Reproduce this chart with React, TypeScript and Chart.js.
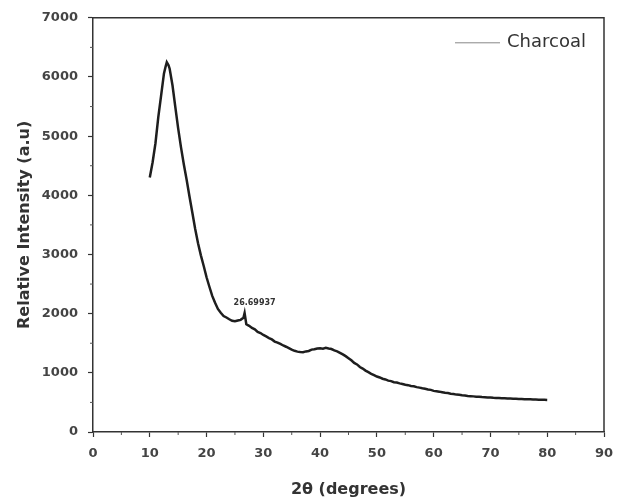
import React, { useEffect, useRef } from "react";
import { Chart, registerables } from "chart.js";

Chart.register(...registerables);

const seriesLabel = "Charcoal";
const peakLabel = "26.69937";
const peakX = 26.7;
const peakY = 2010;

const twoTheta: number[] = [
  10.0, 10.5, 11.0, 11.5, 12.0, 12.5, 12.8, 13.0, 13.3, 13.5, 14.0, 14.5, 15.0, 15.5, 16.0, 16.5,
  17.0, 17.5, 18.0, 18.5, 19.0, 19.5, 20.0, 20.5, 21.0, 21.5, 22.0, 22.5, 23.0, 23.5,
  24.0, 24.5, 25.0, 25.5, 26.0, 26.5, 26.7, 27.0, 27.5, 28.0, 28.5, 29.0, 29.5, 30.0,
  30.5, 31.0, 31.5, 32.0, 32.5, 33.0, 33.5, 34.0, 34.5, 35.0, 35.5, 36.0, 36.5, 37.0,
  37.5, 38.0, 38.5, 39.0, 39.5, 40.0, 40.5, 41.0, 41.5, 42.0, 42.5, 43.0, 43.5, 44.0,
  44.5, 45.0, 45.5, 46.0, 46.5, 47.0, 47.5, 48.0, 48.5, 49.0, 49.5, 50.0, 50.5, 51.0,
  51.5, 52.0, 52.5, 53.0, 53.5, 54.0, 54.5, 55.0, 55.5, 56.0, 56.5, 57.0, 57.5, 58.0,
  58.5, 59.0, 59.5, 60.0, 60.5, 61.0, 61.5, 62.0, 62.5, 63.0, 63.5, 64.0, 64.5, 65.0,
  65.5, 66.0, 66.5, 67.0, 67.5, 68.0, 68.5, 69.0, 69.5, 70.0, 70.5, 71.0, 71.5, 72.0,
  72.5, 73.0, 73.5, 74.0, 74.5, 75.0, 75.5, 76.0, 76.5, 77.0, 77.5, 78.0, 78.5, 79.0,
  79.5, 80.0,
];

const intensity: number[] = [
  4300, 4560, 4880, 5320, 5690, 6060, 6180, 6250, 6200, 6140, 5860, 5490, 5130, 4810, 4520, 4260,
  3975, 3705, 3430, 3190, 2985, 2805, 2615, 2455, 2300, 2185, 2080, 2015, 1960, 1935,
  1905, 1880, 1872, 1885, 1895, 1930, 2010, 1820, 1795, 1758, 1735, 1690, 1672, 1640,
  1615, 1588, 1565, 1528, 1512, 1488, 1462, 1441, 1418, 1392, 1372, 1358, 1352, 1348,
  1362, 1370, 1392, 1398, 1412, 1415, 1408, 1422, 1410, 1402, 1378, 1362, 1338, 1312,
  1282, 1248, 1212, 1168, 1142, 1098, 1072, 1038, 1012, 984, 962, 938, 922, 900,
  888, 868, 860, 842, 836, 822, 812, 798, 792, 778, 772, 758, 750, 738,
  730, 718, 712, 695, 690, 682, 672, 662, 658, 648, 642, 632, 628, 620,
  616, 610, 606, 602, 596, 596, 590, 588, 584, 584, 578, 576, 574, 572,
  570, 566, 566, 562, 562, 558, 556, 554, 553, 552, 550, 548, 547, 546,
  544, 542,
];

const xTicks: number[] = [0, 10, 20, 30, 40, 50, 60, 70, 80, 90];
const yTicks: number[] = [0, 1000, 2000, 3000, 4000, 5000, 6000, 7000];

const FONT = "'DejaVu Sans', 'Liberation Sans', Arial, sans-serif";

const overlayPlugin = {
  id: "overlay",
  afterDraw(chart: any) {
    const { ctx, chartArea, scales } = chart;
    const xs = scales.x;
    const ys = scales.y;
    ctx.save();
    // frame top & right
    ctx.strokeStyle = "#333";
    ctx.lineWidth = 1.5;
    ctx.beginPath();
    ctx.moveTo(chartArea.left, chartArea.top);
    ctx.lineTo(chartArea.right, chartArea.top);
    ctx.lineTo(chartArea.right, chartArea.bottom);
    ctx.stroke();
    // minor ticks
    ctx.lineWidth = 1;
    ctx.strokeStyle = "#555";
    ctx.beginPath();
    for (let v = 5; v < 90; v += 10) {
      const px = xs.getPixelForValue(v);
      ctx.moveTo(px, chartArea.bottom);
      ctx.lineTo(px, chartArea.bottom + 3);
    }
    for (let v = 500; v < 7000; v += 1000) {
      const py = ys.getPixelForValue(v);
      ctx.moveTo(chartArea.left, py);
      ctx.lineTo(chartArea.left - 3, py);
    }
    ctx.stroke();
    // peak annotation
    ctx.fillStyle = "#333";
    ctx.font = "bold 8px " + FONT;
    ctx.textAlign = "center";
    ctx.textBaseline = "middle";
    ctx.fillText(peakLabel, xs.getPixelForValue(peakX) + 10, ys.getPixelForValue(peakY) - 10);
    // legend
    const lx = chartArea.right - 149;
    const ly = chartArea.top + 25;
    ctx.strokeStyle = "#888";
    ctx.lineWidth = 1;
    ctx.beginPath();
    ctx.moveTo(lx, ly);
    ctx.lineTo(lx + 45, ly);
    ctx.stroke();
    ctx.fillStyle = "#333";
    ctx.font = "18px " + FONT;
    ctx.textAlign = "left";
    ctx.fillText(seriesLabel, lx + 52, ly);
    ctx.restore();
  },
};

export default function App() {
  const ref = useRef<HTMLCanvasElement | null>(null);
  useEffect(() => {
    document.body.style.margin = "0";
    const canvas = ref.current;
    if (!canvas) return;
    const chart = new Chart(canvas, {
      type: "line",
      data: {
        datasets: [
          {
            label: seriesLabel,
            data: twoTheta.map((x, i) => ({ x, y: intensity[i] })),
            borderColor: "#1e1e1e",
            borderWidth: 2.5,
            pointRadius: 0,
            tension: 0,
            fill: false,
          },
        ],
      },
      options: {
        animation: false,
        responsive: false,
        maintainAspectRatio: false,
        layout: { padding: { left: 15, top: 17, right: 19, bottom: 0 } },
        plugins: { legend: { display: false }, tooltip: { enabled: false } },
        scales: {
          x: {
            type: "linear",
            min: 0,
            max: 90,
            afterBuildTicks: (s: any) => {
              s.ticks = xTicks.map((v) => ({ value: v }));
            },
            afterFit: (s: any) => {
              s.height = 71;
            },
            ticks: {
              color: "#444",
              font: { family: FONT, size: 13, weight: "bold" },
              padding: 9,
              maxRotation: 0,
              autoSkip: false,
              callback: (v: any) => String(v),
            },
            grid: { drawOnChartArea: false, drawTicks: true, tickLength: 5, tickColor: "#333", tickWidth: 1.2 },
            border: { color: "#333", width: 1.5 },
            title: {
              display: true,
              text: "2θ (degrees)",
              color: "#333",
              font: { family: FONT, size: 16, weight: "bold" },
              padding: { top: 0, bottom: 4 },
            },
          },
          y: {
            type: "linear",
            min: 0,
            max: 7000,
            afterBuildTicks: (s: any) => {
              s.ticks = yTicks.map((v) => ({ value: v }));
            },
            afterFit: (s: any) => {
              s.width = 78;
            },
            ticks: {
              color: "#444",
              font: { family: FONT, size: 13, weight: "bold" },
              padding: 10,
              autoSkip: false,
              callback: (v: any) => String(v),
            },
            grid: { drawOnChartArea: false, drawTicks: true, tickLength: 5, tickColor: "#333", tickWidth: 1.2 },
            border: { color: "#333", width: 1.5 },
            title: {
              display: true,
              text: "Relative Intensity (a.u)",
              color: "#333",
              font: { family: FONT, size: 16, weight: "bold" },
              padding: { top: 0, bottom: 4 },
            },
          },
        },
      },
      plugins: [overlayPlugin],
    } as any);
    return () => chart.destroy();
  }, []);
  return (
    <div style={{ width: 623, height: 503, background: "#fff" }}>
      <canvas ref={ref} width={623} height={503} style={{ display: "block" }} />
    </div>
  );
}
